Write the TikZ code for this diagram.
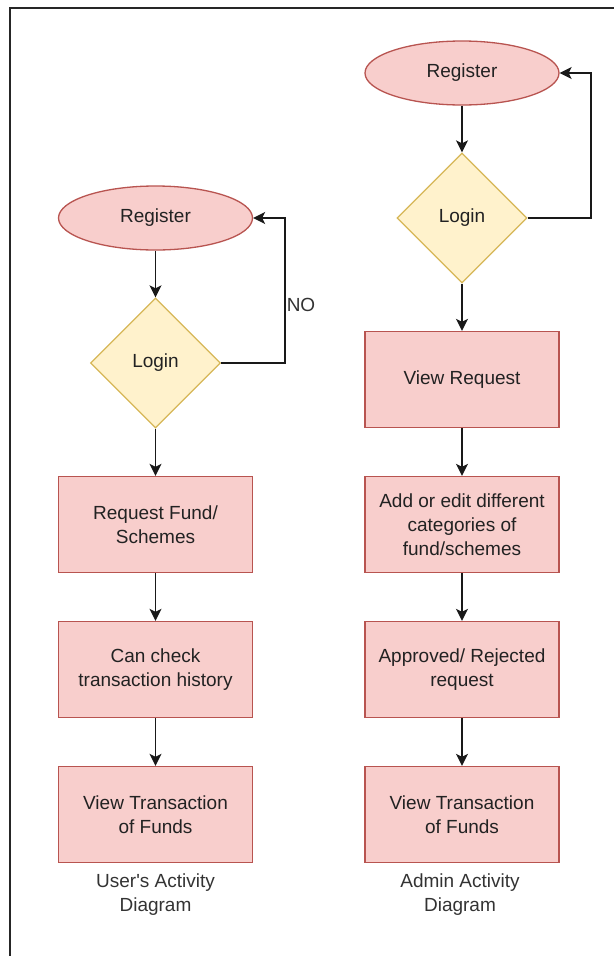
\documentclass[tikz,border=0pt]{standalone}
\usepackage{fontspec}
\setmainfont{Liberation Sans}
\usetikzlibrary{shapes.geometric,arrows.meta}
\definecolor{redfill}{HTML}{F8CECC}
\definecolor{redline}{HTML}{B85450}
\definecolor{yelfill}{HTML}{FFF2CC}
\definecolor{yelline}{HTML}{D6B656}
\definecolor{txt}{HTML}{222222}
\definecolor{captxt}{HTML}{333333}
\begin{document}
\begin{tikzpicture}[x=1pt,y=-1pt,
  every node/.style={font=\fontsize{19}{24}\selectfont,text=txt,align=center},
  startnode/.style={ellipse,draw=redline,fill=redfill,line width=1.3pt,minimum width=194pt,minimum height=64pt,inner sep=0pt},
  decide/.style={diamond,draw=yelline,fill=yelfill,line width=1.3pt,minimum width=130pt,minimum height=130pt,inner sep=0pt,aspect=1},
  actbox/.style={rectangle,draw=redline,fill=redfill,line width=1.3pt,minimum width=194pt,minimum height=96pt,inner sep=0pt},
  flow/.style={draw=black!90,line width=1.6pt,-{Stealth[length=12pt,width=12pt,inset=3pt]}},
  caption/.style={inner sep=0pt,text=captxt}
]
\useasboundingbox (0,0) rectangle (614,956);
% outer frame (left and top edges)
\draw[line width=1.5pt,black!85] (10,956) -- (10,8) -- (614,8);

% user's column
\node[startnode] (ureg) at (155.5,218) {Register};
\node[decide] (ulog) at (155.5,363) {Login};
\node[actbox] (ureq) at (155.5,524.5) {Request Fund/\\Schemes};
\node[actbox] (uhist) at (155.5,669.5) {Can check\\transaction history};
\node[actbox] (uview) at (155.5,814.5) {View Transaction\\of Funds};
\node[caption] (ucap) at (155.5,895) {User\textquotesingle s Activity\\Diagram};

\draw[flow] (ureg) -- (ulog);
\draw[flow] (ulog) -- (ureq);
\draw[flow] (ureq) -- (uhist);
\draw[flow] (uhist) -- (uview);
\coordinate (uloop) at (285,363);
\draw[flow] (ulog.east) -- (uloop) |- (ureg.east);
\node[caption] (uno) at (301,305) {NO};

% admin column
\node[startnode] (areg) at (462,73) {Register};
\node[decide] (alog) at (462,218) {Login};
\node[actbox] (areq) at (462,379.5) {View Request};
\node[actbox] (acat) at (462,524.5) {Add or edit different\\categories of\\fund/schemes};
\node[actbox] (aappr) at (462,669.5) {Approved/ Rejected\\request};
\node[actbox] (aview) at (462,814.5) {View Transaction\\of Funds};
\node[caption] (acap) at (460,895) {Admin Activity\\Diagram};

\draw[flow] (areg) -- (alog);
\draw[flow] (alog) -- (areq);
\draw[flow] (areq) -- (acat);
\draw[flow] (acat) -- (aappr);
\draw[flow] (aappr) -- (aview);
\coordinate (aloop) at (591,218);
\draw[flow] (alog.east) -- (aloop) |- (areg.east);
\end{tikzpicture}
\end{document}
